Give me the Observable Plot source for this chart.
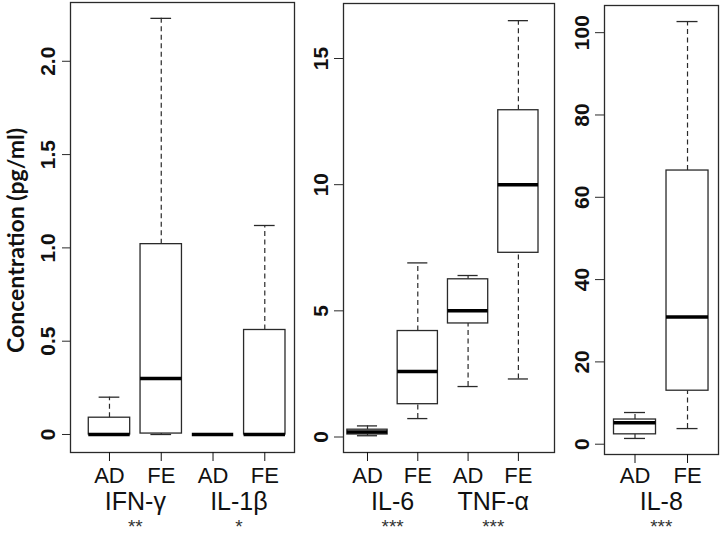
<!DOCTYPE html>
<html><head><meta charset="utf-8">
<script src="https://cdn.jsdelivr.net/npm/d3@7"></script>
<script src="https://cdn.jsdelivr.net/npm/@observablehq/plot@0.6"></script>
<style>
html,body{margin:0;padding:0;background:#fff;}
#chart{position:relative;width:720px;height:536px;overflow:hidden;background:#fff;}
#chart svg{position:absolute;top:0;}
</style></head><body><div id="chart"></div>
<script>
// ---- data ----
const cytokines = ["IFN-γ", "IL-1β", "IL-6", "TNF-α", "IL-8"];
const cytokinePanel = [0, 0, 1, 1, 2];
const significance = ["**", "*", "***", "***", "***"];
const cohorts = ["AD", "FE"];
// one value per box, ordered cytokine by cohort (AD, FE)
const whiskerLow  = [0, 0,     0, 0,    0.05, 0.73, 2.0, 2.3,   1.4, 3.8];
const quartile1   = [0, 0.005, 0, 0,    0.10, 1.30, 4.5, 7.3,   2.4, 13.0];
const medianVal   = [0, 0.30,  0, 0,    0.20, 2.60, 5.0, 10.0,  5.2, 30.9];
const quartile3   = [0.09, 1.02, 0, 0.56, 0.29, 4.20, 6.25, 12.95, 6.0, 66.5];
const whiskerHigh = [0.20, 2.23, 0, 1.12, 0.44, 6.90, 6.4, 16.5,  7.7, 102.7];
const yTickValues = [[0, 0.5, 1.0, 1.5, 2.0], [0, 5, 10, 15], [0, 20, 40, 60, 80, 100]];
const yTitle = "Concentration (pg/ml)";

// ---- layout ----
const H = 536;
const TICK_TEXT_TOP = 467, LABEL_BASELINE = 509, STAR_BASELINE = 532;
const panels = [
  {left: 0,   width: 300, mt: 2, mb: 84, ml: 70, mr: 6, xDomain: [0.247, 4.574], yDomain: [-0.0965, 2.315], fmt: d => d === 0 ? "0" : d.toFixed(1), tick: 8, pad: 8},
  {left: 300, width: 258, mt: 3, mb: 84, ml: 43, mr: 4, xDomain: [0.523, 4.718], yDomain: [-0.614, 17.18], fmt: d => String(d), tick: 9, pad: 7},
  {left: 558, width: 162, mt: 5, mb: 82, ml: 46, mr: 2, xDomain: [0.419, 2.59],  yDomain: [-2.5, 106.6],  fmt: d => String(d), tick: 9, pad: 7}
];

const boxes = [];
cytokines.forEach((c, ci) => cohorts.forEach((g, gi) => {
  const k = ci * 2 + gi;
  boxes.push({cytokine: c, cohort: g, panel: cytokinePanel[ci],
    lo: whiskerLow[k], q1: quartile1[k], med: medianVal[k], q3: quartile3[k], hi: whiskerHigh[k]});
}));

const INK = "#2a2a2a";
const chart = document.getElementById("chart");

panels.forEach((P, p) => {
  const b = boxes.filter(d => d.panel === p).map((d, i) => ({...d, pos: i + 1}));
  const groups = cytokines.map((c, ci) => ({c, ci})).filter(o => cytokinePanel[o.ci] === p).map(o => {
    const members = b.filter(d => d.cytokine === o.c);
    return {label: o.c, star: significance[o.ci], pos: d3.mean(members, d => d.pos)};
  });
  const frameBottom = H - P.mb;
  const dash = {stroke: INK, strokeWidth: 1.2, strokeDasharray: "5,3.5"};
  const marks = [
    Plot.ruleX(b, {x: "pos", y1: "q3", y2: "hi", ...dash}),
    Plot.ruleX(b, {x: "pos", y1: "lo", y2: "q1", ...dash}),
    Plot.rect(b, {x1: d => d.pos - 0.4, x2: d => d.pos + 0.4, y1: "q1", y2: "q3", fill: "white", stroke: INK, strokeWidth: 1.3}),
    Plot.ruleY(b, {y: "hi", x1: d => d.pos - 0.2, x2: d => d.pos + 0.2, stroke: INK, strokeWidth: 1.3}),
    Plot.ruleY(b, {y: "lo", x1: d => d.pos - 0.2, x2: d => d.pos + 0.2, stroke: INK, strokeWidth: 1.3}),
    Plot.ruleY(b, {y: "med", x1: d => d.pos - 0.4, x2: d => d.pos + 0.4, stroke: "#000", strokeWidth: 3.5}),
    Plot.frame({stroke: INK, strokeWidth: 1.3}),
    Plot.axisY(yTickValues[p], {anchor: "left", tickSize: P.tick, tickFormat: () => "", label: null, color: INK}),
    Plot.text(yTickValues[p], {y: d => d, text: P.fmt, frameAnchor: "left", dx: -(P.tick + P.pad),
      rotate: -90, textAnchor: "middle", lineAnchor: "bottom", fontSize: 21, fontWeight: "bold", fill: "#111"}),
    Plot.axisX(b.map(d => d.pos), {anchor: "bottom", tickSize: 9, tickPadding: TICK_TEXT_TOP - frameBottom - 9,
      tickFormat: v => b[v - 1].cohort, fontSize: 22, label: null, color: "#111"}),
    Plot.text(groups, {x: "pos", text: "label", frameAnchor: "bottom", dy: LABEL_BASELINE - frameBottom,
      lineAnchor: "bottom", fontSize: 25, fill: "#111"}),
    Plot.text(groups, {x: "pos", text: "star", frameAnchor: "bottom", dy: STAR_BASELINE - frameBottom,
      lineAnchor: "bottom", fontSize: 19, fill: "#333"})
  ];
  if (p === 0) {
    marks.push(Plot.text([yTitle], {text: d => d, frameAnchor: "left", dx: 23 - P.ml, dy: 240 - (P.mt + frameBottom) / 2,
      rotate: -90, textAnchor: "middle", lineAnchor: "bottom", fontSize: 23, fontWeight: "bold", fontFamily: "Lato", fill: "#111"}));
  }
  const svg = Plot.plot({
    width: P.width, height: H,
    marginLeft: P.ml, marginRight: P.mr, marginTop: P.mt, marginBottom: P.mb,
    x: {type: "linear", domain: P.xDomain, axis: null},
    y: {type: "linear", domain: P.yDomain, axis: null},
    style: {fontFamily: "'Liberation Sans', Arial, sans-serif", background: "transparent", color: "#111", overflow: "visible"},
    marks
  });
  svg.style.left = P.left + "px";
  chart.appendChild(svg);
});
</script>
</body></html>
